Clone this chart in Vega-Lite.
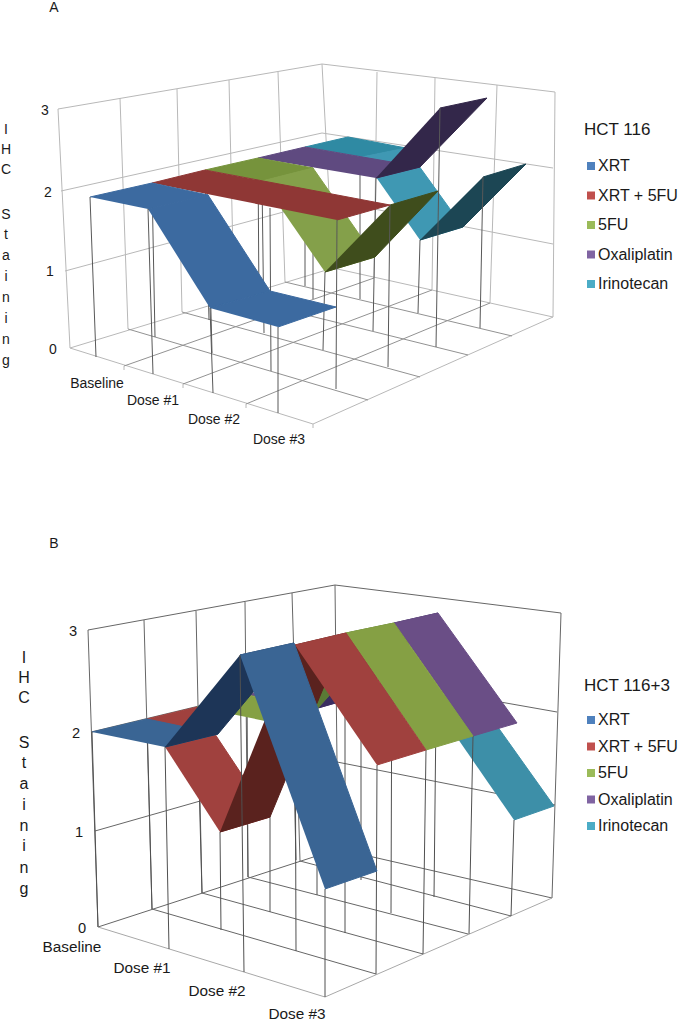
{"$schema":"https://vega.github.io/schema/vega-lite/v6.json","padding":0,"spacing":0,"background":"white","config":{"view":{"stroke":null},"font":"Liberation Sans","concat":{"spacing":0}},
"resolve":{"scale":{"fill":"independent","stroke":"independent","color":"independent","size":"independent"},"legend":{"color":"independent"}},
"datasets":{
"aShapes":[
{"shape":"w1","part":"grid","k":0,"x":58,"y":109},{"shape":"w1","part":"grid","k":1,"x":322,"y":64},
{"shape":"w2","part":"grid","k":0,"x":61,"y":191},{"shape":"w2","part":"grid","k":1,"x":322,"y":133},
{"shape":"w3","part":"grid","k":0,"x":65,"y":271},{"shape":"w3","part":"grid","k":1,"x":328,"y":200},
{"shape":"w4","part":"grid","k":0,"x":70,"y":348},{"shape":"w4","part":"grid","k":1,"x":333,"y":268},
{"shape":"w5","part":"grid","k":0,"x":58,"y":109},{"shape":"w5","part":"grid","k":1,"x":70,"y":348},
{"shape":"w6","part":"grid","k":0,"x":120,"y":98},{"shape":"w6","part":"grid","k":1,"x":128,"y":329},
{"shape":"w7","part":"grid","k":0,"x":177,"y":89},{"shape":"w7","part":"grid","k":1,"x":182,"y":312},
{"shape":"w8","part":"grid","k":0,"x":229,"y":80},{"shape":"w8","part":"grid","k":1,"x":234,"y":297},
{"shape":"w9","part":"grid","k":0,"x":278,"y":72},{"shape":"w9","part":"grid","k":1,"x":285,"y":282},
{"shape":"w10","part":"grid","k":0,"x":322,"y":64},{"shape":"w10","part":"grid","k":1,"x":333,"y":268},
{"shape":"w11","part":"grid","k":0,"x":322,"y":64},{"shape":"w11","part":"grid","k":1,"x":555,"y":92},
{"shape":"w12","part":"grid","k":0,"x":322,"y":133},{"shape":"w12","part":"grid","k":1,"x":553,"y":168},
{"shape":"w13","part":"grid","k":0,"x":328,"y":200},{"shape":"w13","part":"grid","k":1,"x":553,"y":244},
{"shape":"w14","part":"grid","k":0,"x":333,"y":268},{"shape":"w14","part":"grid","k":1,"x":553,"y":317},
{"shape":"w15","part":"grid","k":0,"x":377,"y":72},{"shape":"w15","part":"grid","k":1,"x":374,"y":278},
{"shape":"w16","part":"grid","k":0,"x":435,"y":78},{"shape":"w16","part":"grid","k":1,"x":432,"y":290},
{"shape":"w17","part":"grid","k":0,"x":497,"y":85},{"shape":"w17","part":"grid","k":1,"x":490,"y":303},
{"shape":"w18","part":"grid","k":0,"x":555,"y":92},{"shape":"w18","part":"grid","k":1,"x":553,"y":317},
{"shape":"f1","part":"grid","k":0,"x":70,"y":348},{"shape":"f1","part":"grid","k":1,"x":313,"y":424},
{"shape":"f2","part":"grid","k":0,"x":313,"y":424},{"shape":"f2","part":"grid","k":1,"x":553,"y":317},
{"shape":"f3","part":"floor","k":0,"x":128,"y":329},{"shape":"f3","part":"floor","k":1,"x":368,"y":400},
{"shape":"f4","part":"floor","k":0,"x":182,"y":312},{"shape":"f4","part":"floor","k":1,"x":420,"y":377},
{"shape":"f5","part":"floor","k":0,"x":234,"y":297},{"shape":"f5","part":"floor","k":1,"x":468,"y":355},
{"shape":"f6","part":"floor","k":0,"x":285,"y":282},{"shape":"f6","part":"floor","k":1,"x":512,"y":336},
{"shape":"f7","part":"floor","k":0,"x":124,"y":366},{"shape":"f7","part":"floor","k":1,"x":374,"y":278},
{"shape":"f8","part":"floor","k":0,"x":183,"y":384},{"shape":"f8","part":"floor","k":1,"x":432,"y":290},
{"shape":"f9","part":"floor","k":0,"x":246,"y":404},{"shape":"f9","part":"floor","k":1,"x":490,"y":303},
{"shape":"t1","part":"grid","k":0,"x":124,"y":366},{"shape":"t1","part":"grid","k":1,"x":124,"y":370},
{"shape":"t2","part":"grid","k":0,"x":183,"y":384},{"shape":"t2","part":"grid","k":1,"x":183,"y":388},
{"shape":"t3","part":"grid","k":0,"x":246,"y":404},{"shape":"t3","part":"grid","k":1,"x":246,"y":408},
{"shape":"t4","part":"grid","k":0,"x":313,"y":424},{"shape":"t4","part":"grid","k":1,"x":313,"y":428},

{"shape":"I1","part":"Irinotecan","k":0,"x":305,"y":147},{"shape":"I1","part":"Irinotecan","k":1,"x":348,"y":137},{"shape":"I1","part":"Irinotecan","k":2,"x":406,"y":148},{"shape":"I1","part":"Irinotecan","k":3,"x":362,"y":157},
{"shape":"I2","part":"Irinotecan slope","k":0,"x":362,"y":157},{"shape":"I2","part":"Irinotecan slope","k":1,"x":406,"y":148},{"shape":"I2","part":"Irinotecan slope","k":2,"x":463,"y":227},{"shape":"I2","part":"Irinotecan slope","k":3,"x":420,"y":240},
{"shape":"I3","part":"Irinotecan underside","k":0,"x":420,"y":240},{"shape":"I3","part":"Irinotecan underside","k":1,"x":463,"y":227},{"shape":"I3","part":"Irinotecan underside","k":2,"x":526,"y":164},{"shape":"I3","part":"Irinotecan underside","k":3,"x":483,"y":177},
{"shape":"Id0","part":"drop","k":0,"x":305,"y":147},{"shape":"Id0","part":"drop","k":1,"x":305,"y":286},
{"shape":"Id1","part":"drop","k":0,"x":360,"y":157},{"shape":"Id1","part":"drop","k":1,"x":360,"y":299},
{"shape":"Id2","part":"drop","k":0,"x":420,"y":240},{"shape":"Id2","part":"drop","k":1,"x":418,"y":313},
{"shape":"Id3","part":"drop","k":0,"x":483,"y":177},{"shape":"Id3","part":"drop","k":1,"x":480,"y":328},

{"shape":"O1","part":"Oxaliplatin","k":0,"x":258,"y":158},{"shape":"O1","part":"Oxaliplatin","k":1,"x":305,"y":147},{"shape":"O1","part":"Oxaliplatin","k":2,"x":420,"y":167},{"shape":"O1","part":"Oxaliplatin","k":3,"x":376,"y":178},
{"shape":"O2","part":"Oxaliplatin underside","k":0,"x":376,"y":178},{"shape":"O2","part":"Oxaliplatin underside","k":1,"x":420,"y":167},{"shape":"O2","part":"Oxaliplatin underside","k":2,"x":487,"y":98},{"shape":"O2","part":"Oxaliplatin underside","k":3,"x":440,"y":108},
{"shape":"Od0","part":"drop","k":0,"x":258,"y":158},{"shape":"Od0","part":"drop","k":1,"x":259,"y":303},
{"shape":"Od1","part":"drop","k":0,"x":313,"y":168},{"shape":"Od1","part":"drop","k":1,"x":313,"y":299},
{"shape":"Od2","part":"drop","k":0,"x":376,"y":178},{"shape":"Od2","part":"drop","k":1,"x":373,"y":331},
{"shape":"Od3","part":"drop","k":0,"x":440,"y":108},{"shape":"Od3","part":"drop","k":1,"x":436,"y":347},

{"shape":"G1","part":"5FU","k":0,"x":205,"y":170},{"shape":"G1","part":"5FU","k":1,"x":258,"y":158},{"shape":"G1","part":"5FU","k":2,"x":313,"y":168},{"shape":"G1","part":"5FU","k":3,"x":262,"y":181},
{"shape":"G2","part":"5FU slope","k":0,"x":262,"y":181},{"shape":"G2","part":"5FU slope","k":1,"x":313,"y":168},{"shape":"G2","part":"5FU slope","k":2,"x":375,"y":257},{"shape":"G2","part":"5FU slope","k":3,"x":325,"y":272},
{"shape":"G3","part":"5FU underside","k":0,"x":325,"y":272},{"shape":"G3","part":"5FU underside","k":1,"x":375,"y":257},{"shape":"G3","part":"5FU underside","k":2,"x":438,"y":191},{"shape":"G3","part":"5FU underside","k":3,"x":390,"y":205},
{"shape":"Gd0","part":"drop","k":0,"x":205,"y":170},{"shape":"Gd0","part":"drop","k":1,"x":209,"y":320},
{"shape":"Gd1","part":"drop","k":0,"x":262,"y":181},{"shape":"Gd1","part":"drop","k":1,"x":264,"y":333},
{"shape":"Gd2","part":"drop","k":0,"x":325,"y":272},{"shape":"Gd2","part":"drop","k":1,"x":323,"y":350},
{"shape":"Gd3","part":"drop","k":0,"x":390,"y":205},{"shape":"Gd3","part":"drop","k":1,"x":388,"y":367},

{"shape":"R1","part":"XRT + 5FU","k":0,"x":152,"y":183},{"shape":"R1","part":"XRT + 5FU","k":1,"x":205,"y":170},{"shape":"R1","part":"XRT + 5FU","k":2,"x":390,"y":205},{"shape":"R1","part":"XRT + 5FU","k":3,"x":337,"y":220},
{"shape":"Rd0","part":"drop","k":0,"x":152,"y":183},{"shape":"Rd0","part":"drop","k":1,"x":155,"y":337},
{"shape":"Rd1","part":"drop","k":0,"x":208,"y":195},{"shape":"Rd1","part":"drop","k":1,"x":212,"y":353},
{"shape":"Rd2","part":"drop","k":0,"x":270,"y":208},{"shape":"Rd2","part":"drop","k":1,"x":271,"y":371},
{"shape":"Rd3","part":"drop","k":0,"x":337,"y":220},{"shape":"Rd3","part":"drop","k":1,"x":336,"y":389},

{"shape":"B1","part":"XRT","k":0,"x":90,"y":197},{"shape":"B1","part":"XRT","k":1,"x":152,"y":183},{"shape":"B1","part":"XRT","k":2,"x":208,"y":195},{"shape":"B1","part":"XRT","k":3,"x":148,"y":209},
{"shape":"B2","part":"XRT","k":0,"x":148,"y":209},{"shape":"B2","part":"XRT","k":1,"x":208,"y":195},{"shape":"B2","part":"XRT","k":2,"x":270,"y":291},{"shape":"B2","part":"XRT","k":3,"x":210,"y":308},
{"shape":"B3","part":"XRT","k":0,"x":210,"y":308},{"shape":"B3","part":"XRT","k":1,"x":270,"y":291},{"shape":"B3","part":"XRT","k":2,"x":336,"y":307},{"shape":"B3","part":"XRT","k":3,"x":278,"y":327},
{"shape":"Bd0","part":"drop","k":0,"x":90,"y":197},{"shape":"Bd0","part":"drop","k":1,"x":96,"y":357},
{"shape":"Bd1","part":"drop","k":0,"x":148,"y":209},{"shape":"Bd1","part":"drop","k":1,"x":153,"y":374},
{"shape":"Bd2","part":"drop","k":0,"x":210,"y":308},{"shape":"Bd2","part":"drop","k":1,"x":213,"y":393},
{"shape":"Bd3","part":"drop","k":0,"x":278,"y":327},{"shape":"Bd3","part":"drop","k":1,"x":278,"y":413}
],
"aSeries":[{"series":"XRT","x":90,"y":197},{"series":"XRT + 5FU","x":152,"y":183},{"series":"5FU","x":205,"y":170},{"series":"Oxaliplatin","x":258,"y":158},{"series":"Irinotecan","x":305,"y":147}],
"aText":[
{"label":"A","role":"title","x":54,"y":6},
{"label":"3","role":"tick","x":45,"y":109},{"label":"2","role":"tick","x":48,"y":191},{"label":"1","role":"tick","x":50,"y":270},{"label":"0","role":"tick","x":53,"y":348},
{"label":"Baseline","role":"category","x":97,"y":382},{"label":"Dose #1","role":"category","x":153,"y":399},{"label":"Dose #2","role":"category","x":214,"y":418},{"label":"Dose #3","role":"category","x":279,"y":438},
{"label":"I","role":"axis","x":6,"y":128},{"label":"H","role":"axis","x":6,"y":148},{"label":"C","role":"axis","x":6,"y":168},
{"label":"S","role":"axis","x":6,"y":213},{"label":"t","role":"axis","x":6,"y":233},{"label":"a","role":"axis","x":6,"y":254},{"label":"i","role":"axis","x":6,"y":275},{"label":"n","role":"axis","x":6,"y":296},{"label":"i","role":"axis","x":6,"y":317},{"label":"n","role":"axis","x":6,"y":338},{"label":"g","role":"axis","x":6,"y":359}
],
"bShapes":[
{"shape":"w1","part":"grid","k":0,"x":88,"y":630},{"shape":"w1","part":"grid","k":1,"x":335,"y":585},
{"shape":"w2","part":"grid","k":0,"x":91,"y":732},{"shape":"w2","part":"grid","k":1,"x":336,"y":673},
{"shape":"w3","part":"grid","k":0,"x":95,"y":831},{"shape":"w3","part":"grid","k":1,"x":337,"y":762},
{"shape":"w4","part":"grid","k":0,"x":98,"y":927},{"shape":"w4","part":"grid","k":1,"x":338,"y":849},
{"shape":"w5","part":"grid","k":0,"x":88,"y":630},{"shape":"w5","part":"grid","k":1,"x":98,"y":927},
{"shape":"w6","part":"grid","k":0,"x":144,"y":620},{"shape":"w6","part":"grid","k":1,"x":152,"y":909},
{"shape":"w7","part":"grid","k":0,"x":196,"y":611},{"shape":"w7","part":"grid","k":1,"x":202,"y":893},
{"shape":"w8","part":"grid","k":0,"x":245,"y":602},{"shape":"w8","part":"grid","k":1,"x":248,"y":877},
{"shape":"w9","part":"grid","k":0,"x":292,"y":593},{"shape":"w9","part":"grid","k":1,"x":300,"y":861},
{"shape":"w10","part":"grid","k":0,"x":335,"y":585},{"shape":"w10","part":"grid","k":1,"x":338,"y":849},
{"shape":"w11","part":"grid","k":0,"x":335,"y":585},{"shape":"w11","part":"grid","k":1,"x":561,"y":613},
{"shape":"w12","part":"grid","k":0,"x":336,"y":673},{"shape":"w12","part":"grid","k":1,"x":557,"y":712},
{"shape":"w13","part":"grid","k":0,"x":337,"y":762},{"shape":"w13","part":"grid","k":1,"x":555,"y":805},
{"shape":"w14","part":"grid","k":0,"x":338,"y":849},{"shape":"w14","part":"grid","k":1,"x":552,"y":898},
{"shape":"w15","part":"grid","k":0,"x":561,"y":613},{"shape":"w15","part":"grid","k":1,"x":552,"y":898},
{"shape":"f1","part":"edge","k":0,"x":98,"y":927},{"shape":"f1","part":"edge","k":1,"x":325,"y":997},
{"shape":"f2","part":"edge","k":0,"x":325,"y":997},{"shape":"f2","part":"edge","k":1,"x":552,"y":898},
{"shape":"f3","part":"grid","k":0,"x":152,"y":909},{"shape":"f3","part":"grid","k":1,"x":376,"y":974},
{"shape":"f4","part":"grid","k":0,"x":202,"y":893},{"shape":"f4","part":"grid","k":1,"x":423,"y":954},
{"shape":"f5","part":"grid","k":0,"x":248,"y":877},{"shape":"f5","part":"grid","k":1,"x":468,"y":934},
{"shape":"f6","part":"grid","k":0,"x":300,"y":861},{"shape":"f6","part":"grid","k":1,"x":511,"y":916},

{"shape":"I1","part":"Irinotecan","k":0,"x":292,"y":685},{"shape":"I1","part":"Irinotecan","k":1,"x":335,"y":675},{"shape":"I1","part":"Irinotecan","k":2,"x":480,"y":702},{"shape":"I1","part":"Irinotecan","k":3,"x":440,"y":713},
{"shape":"I2","part":"Irinotecan","k":0,"x":440,"y":713},{"shape":"I2","part":"Irinotecan","k":1,"x":480,"y":702},{"shape":"I2","part":"Irinotecan","k":2,"x":554,"y":806},{"shape":"I2","part":"Irinotecan","k":3,"x":514,"y":820},
{"shape":"Id0","part":"drop","k":0,"x":292,"y":685},{"shape":"Id0","part":"drop","k":1,"x":296,"y":860},
{"shape":"Id1","part":"drop","k":0,"x":361,"y":696},{"shape":"Id1","part":"drop","k":1,"x":361,"y":880},
{"shape":"Id2","part":"drop","k":0,"x":436,"y":713},{"shape":"Id2","part":"drop","k":1,"x":434,"y":897},
{"shape":"Id3","part":"drop","k":0,"x":514,"y":820},{"shape":"Id3","part":"drop","k":1,"x":511,"y":916},

{"shape":"O1","part":"Oxaliplatin","k":0,"x":247,"y":695},{"shape":"O1","part":"Oxaliplatin","k":1,"x":292,"y":685},{"shape":"O1","part":"Oxaliplatin","k":2,"x":360,"y":696},{"shape":"O1","part":"Oxaliplatin","k":3,"x":318,"y":708},
{"shape":"O2","part":"Oxaliplatin underside","k":0,"x":318,"y":708},{"shape":"O2","part":"Oxaliplatin underside","k":1,"x":360,"y":696},{"shape":"O2","part":"Oxaliplatin underside","k":2,"x":438,"y":613},{"shape":"O2","part":"Oxaliplatin underside","k":3,"x":394,"y":623},
{"shape":"O3","part":"Oxaliplatin","k":0,"x":394,"y":623},{"shape":"O3","part":"Oxaliplatin","k":1,"x":438,"y":613},{"shape":"O3","part":"Oxaliplatin","k":2,"x":517,"y":723},{"shape":"O3","part":"Oxaliplatin","k":3,"x":473,"y":736},
{"shape":"Od0","part":"drop","k":0,"x":247,"y":695},{"shape":"Od0","part":"drop","k":1,"x":248,"y":877},
{"shape":"Od1","part":"drop","k":0,"x":317,"y":708},{"shape":"Od1","part":"drop","k":1,"x":317,"y":895},
{"shape":"Od2","part":"drop","k":0,"x":392,"y":623},{"shape":"Od2","part":"drop","k":1,"x":391,"y":913},
{"shape":"Od3","part":"drop","k":0,"x":473,"y":736},{"shape":"Od3","part":"drop","k":1,"x":469,"y":934},

{"shape":"G1","part":"5FU","k":0,"x":197,"y":707},{"shape":"G1","part":"5FU","k":1,"x":247,"y":695},{"shape":"G1","part":"5FU","k":2,"x":318,"y":708},{"shape":"G1","part":"5FU","k":3,"x":270,"y":722},
{"shape":"G2","part":"5FU underside","k":0,"x":270,"y":722},{"shape":"G2","part":"5FU underside","k":1,"x":318,"y":708},{"shape":"G2","part":"5FU underside","k":2,"x":394,"y":623},{"shape":"G2","part":"5FU underside","k":3,"x":346,"y":633},
{"shape":"G3","part":"5FU","k":0,"x":346,"y":633},{"shape":"G3","part":"5FU","k":1,"x":394,"y":623},{"shape":"G3","part":"5FU","k":2,"x":473,"y":736},{"shape":"G3","part":"5FU","k":3,"x":426,"y":750},
{"shape":"Gd0","part":"drop","k":0,"x":197,"y":707},{"shape":"Gd0","part":"drop","k":1,"x":202,"y":893},
{"shape":"Gd1","part":"drop","k":0,"x":270,"y":722},{"shape":"Gd1","part":"drop","k":1,"x":270,"y":912},
{"shape":"Gd2","part":"drop","k":0,"x":345,"y":633},{"shape":"Gd2","part":"drop","k":1,"x":345,"y":933},
{"shape":"Gd3","part":"drop","k":0,"x":426,"y":750},{"shape":"Gd3","part":"drop","k":1,"x":423,"y":954},

{"shape":"R1","part":"XRT + 5FU","k":0,"x":147,"y":719},{"shape":"R1","part":"XRT + 5FU","k":1,"x":197,"y":707},{"shape":"R1","part":"XRT + 5FU","k":2,"x":270,"y":817},{"shape":"R1","part":"XRT + 5FU","k":3,"x":220,"y":832},
{"shape":"R2","part":"XRT + 5FU underside","k":0,"x":220,"y":832},{"shape":"R2","part":"XRT + 5FU underside","k":1,"x":270,"y":817},{"shape":"R2","part":"XRT + 5FU underside","k":2,"x":346,"y":633},{"shape":"R2","part":"XRT + 5FU underside","k":3,"x":295,"y":645},
{"shape":"R3","part":"XRT + 5FU","k":0,"x":295,"y":645},{"shape":"R3","part":"XRT + 5FU","k":1,"x":346,"y":633},{"shape":"R3","part":"XRT + 5FU","k":2,"x":426,"y":750},{"shape":"R3","part":"XRT + 5FU","k":3,"x":377,"y":765},
{"shape":"Rd0","part":"drop","k":0,"x":147,"y":719},{"shape":"Rd0","part":"drop","k":1,"x":152,"y":909},
{"shape":"Rd1","part":"drop","k":0,"x":220,"y":832},{"shape":"Rd1","part":"drop","k":1,"x":221,"y":930},
{"shape":"Rd2","part":"drop","k":0,"x":295,"y":645},{"shape":"Rd2","part":"drop","k":1,"x":296,"y":951},
{"shape":"Rd3","part":"drop","k":0,"x":377,"y":765},{"shape":"Rd3","part":"drop","k":1,"x":376,"y":974},

{"shape":"B1","part":"XRT","k":0,"x":92,"y":732},{"shape":"B1","part":"XRT","k":1,"x":147,"y":719},{"shape":"B1","part":"XRT","k":2,"x":218,"y":734},{"shape":"B1","part":"XRT","k":3,"x":165,"y":747},
{"shape":"B2","part":"XRT underside","k":0,"x":165,"y":747},{"shape":"B2","part":"XRT underside","k":1,"x":218,"y":734},{"shape":"B2","part":"XRT underside","k":2,"x":294,"y":643},{"shape":"B2","part":"XRT underside","k":3,"x":240,"y":655},
{"shape":"B3","part":"XRT","k":0,"x":240,"y":655},{"shape":"B3","part":"XRT","k":1,"x":294,"y":643},{"shape":"B3","part":"XRT","k":2,"x":377,"y":871},{"shape":"B3","part":"XRT","k":3,"x":325,"y":889},
{"shape":"Bd0","part":"drop","k":0,"x":92,"y":732},{"shape":"Bd0","part":"drop","k":1,"x":98,"y":927},
{"shape":"Bd1","part":"drop","k":0,"x":165,"y":747},{"shape":"Bd1","part":"drop","k":1,"x":169,"y":949},
{"shape":"Bd2","part":"drop","k":0,"x":240,"y":655},{"shape":"Bd2","part":"drop","k":1,"x":244,"y":972},
{"shape":"Bd3","part":"drop","k":0,"x":325,"y":889},{"shape":"Bd3","part":"drop","k":1,"x":325,"y":997}
],
"bSeries":[{"series":"XRT","x":92,"y":732},{"series":"XRT + 5FU","x":147,"y":719},{"series":"5FU","x":197,"y":707},{"series":"Oxaliplatin","x":247,"y":695},{"series":"Irinotecan","x":292,"y":685}],
"bText":[
{"label":"B","role":"title","x":54,"y":542},
{"label":"3","role":"tick","x":73,"y":630},{"label":"2","role":"tick","x":76,"y":732},{"label":"1","role":"tick","x":79,"y":831},{"label":"0","role":"tick","x":82,"y":927},
{"label":"Baseline","role":"category","x":72,"y":945},{"label":"Dose #1","role":"category","x":142,"y":966},{"label":"Dose #2","role":"category","x":217,"y":989},{"label":"Dose #3","role":"category","x":297,"y":1012},
{"label":"I","role":"axis","x":24,"y":656},{"label":"H","role":"axis","x":24,"y":676},{"label":"C","role":"axis","x":24,"y":696},
{"label":"S","role":"axis","x":24,"y":741},{"label":"t","role":"axis","x":24,"y":761},{"label":"a","role":"axis","x":24,"y":782},{"label":"i","role":"axis","x":24,"y":803},{"label":"n","role":"axis","x":24,"y":824},{"label":"i","role":"axis","x":24,"y":844},{"label":"n","role":"axis","x":24,"y":866},{"label":"g","role":"axis","x":24,"y":887}
]
},
"vconcat":[
{"width":679,"height":510,
"layer":[
{"data":{"name":"aShapes"},"mark":{"type":"line","filled":true,"strokeWidth":1,"interpolate":"linear"},
"encoding":{"x":{"field":"x","type":"quantitative","axis":null,"scale":{"domain":[0,679],"nice":false,"zero":false}},"y":{"field":"y","type":"quantitative","axis":null,"scale":{"domain":[510,0],"nice":false,"zero":false}},
"detail":{"field":"shape"},"order":{"field":"k"},
"fill":{"field":"part","type":"nominal","legend":null,"scale":{"domain":["grid","floor","drop","XRT","XRT + 5FU","5FU","5FU slope","5FU underside","Oxaliplatin","Oxaliplatin underside","Irinotecan","Irinotecan slope","Irinotecan underside"],"range":["transparent","transparent","transparent","#3c6aa0","#8f3735","#76933c","#84a04a","#3f4d1c","#5f4a80","#33274a","#2f8aa3","#3f98b3","#1c4654"]}},
"stroke":{"field":"part","type":"nominal","legend":null,"scale":{"domain":["grid","floor","drop","XRT","XRT + 5FU","5FU","5FU slope","5FU underside","Oxaliplatin","Oxaliplatin underside","Irinotecan","Irinotecan slope","Irinotecan underside"],"range":["#b8b8b8","#929292","#585858","#3c6aa0","#8f3735","#76933c","#84a04a","#3f4d1c","#5f4a80","#33274a","#2f8aa3","#3f98b3","#1c4654"]}}}},
{"data":{"name":"aSeries"},"mark":{"type":"point","filled":true,"shape":"square","size":0,"opacity":1},
"encoding":{"x":{"field":"x","type":"quantitative"},"y":{"field":"y","type":"quantitative"},
"color":{"field":"series","type":"nominal","scale":{"domain":["XRT","XRT + 5FU","5FU","Oxaliplatin","Irinotecan"],"range":["#4F81BD","#C0504D","#9BBB59","#8064A2","#4BACC6"]},
"legend":{"orient":"none","legendX":584,"legendY":122,"title":"HCT 116","titleFontSize":17,"titleFont":"Liberation Sans","titleFontWeight":"normal","titleColor":"#1a1a1a","titlePadding":19,"labelFontSize":16,"labelFont":"Liberation Sans","labelColor":"#1a1a1a","labelOffset":-1,"symbolType":"square","symbolSize":64,"symbolStrokeWidth":0,"symbolOffset":-1,"symbolOpacity":1,"rowPadding":13.5}}}},
{"data":{"name":"aText"},"mark":{"type":"text","align":"center","baseline":"middle","color":"#1a1a1a","dy":2},
"encoding":{"x":{"field":"x","type":"quantitative"},"y":{"field":"y","type":"quantitative"},"text":{"field":"label"},
"size":{"field":"role","type":"ordinal","legend":null,"scale":{"domain":["title","tick","category","axis"],"range":[14,14,14,14]}}}}
]},
{"width":679,"height":510,
"layer":[
{"data":{"name":"bShapes"},"mark":{"type":"line","filled":true,"strokeWidth":1,"interpolate":"linear"},
"encoding":{"x":{"field":"x","type":"quantitative","axis":null,"scale":{"domain":[0,679],"nice":false,"zero":false}},"y":{"field":"y","type":"quantitative","axis":null,"scale":{"domain":[1020,510],"nice":false,"zero":false}},
"detail":{"field":"shape"},"order":{"field":"k"},
"fill":{"field":"part","type":"nominal","legend":null,"scale":{"domain":["grid","edge","drop","XRT","XRT underside","XRT + 5FU","XRT + 5FU underside","5FU","5FU underside","Oxaliplatin","Oxaliplatin underside","Irinotecan"],"range":["transparent","transparent","transparent","#3a6594","#1d3557","#a0413e","#5a221e","#85a044","#5a7a35","#6a4e86","#3a2d60","#3d8fa8"]}},
"stroke":{"field":"part","type":"nominal","legend":null,"scale":{"domain":["grid","edge","drop","XRT","XRT underside","XRT + 5FU","XRT + 5FU underside","5FU","5FU underside","Oxaliplatin","Oxaliplatin underside","Irinotecan"],"range":["#666666","#a8a8a8","#505050","#3a6594","#1d3557","#a0413e","#5a221e","#85a044","#5a7a35","#6a4e86","#3a2d60","#3d8fa8"]}}}},
{"data":{"name":"bSeries"},"mark":{"type":"point","filled":true,"shape":"square","size":0,"opacity":1},
"encoding":{"x":{"field":"x","type":"quantitative"},"y":{"field":"y","type":"quantitative"},
"color":{"field":"series","type":"nominal","scale":{"domain":["XRT","XRT + 5FU","5FU","Oxaliplatin","Irinotecan"],"range":["#4F81BD","#C0504D","#9BBB59","#8064A2","#4BACC6"]},
"legend":{"orient":"none","legendX":584,"legendY":168,"title":"HCT 116+3","titleFontSize":17,"titleFont":"Liberation Sans","titleFontWeight":"normal","titleColor":"#1a1a1a","titlePadding":17,"labelFontSize":16,"labelFont":"Liberation Sans","labelColor":"#1a1a1a","labelOffset":-1,"symbolType":"square","symbolSize":64,"symbolStrokeWidth":0,"symbolOffset":-1,"symbolOpacity":1,"rowPadding":10.5}}}},
{"data":{"name":"bText"},"mark":{"type":"text","align":"center","baseline":"middle","color":"#1a1a1a","dy":2},
"encoding":{"x":{"field":"x","type":"quantitative"},"y":{"field":"y","type":"quantitative"},"text":{"field":"label"},
"size":{"field":"role","type":"ordinal","legend":null,"scale":{"domain":["title","tick","category","axis"],"range":[14,16,14,14]}}}}
]}
]}
